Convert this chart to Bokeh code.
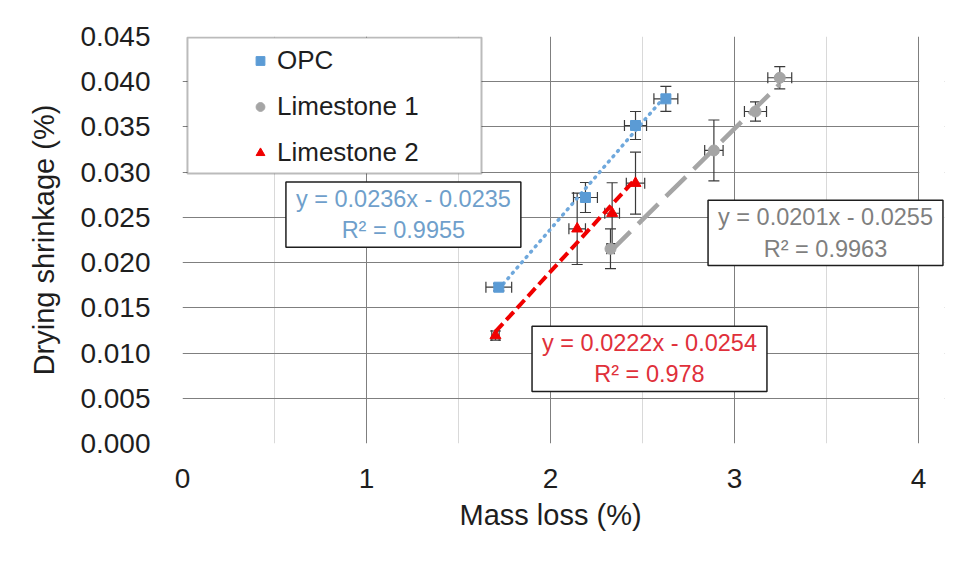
from bokeh.plotting import figure
from bokeh.models import (Range1d, FixedTicker, ColumnDataSource, Whisker, TeeHead,
                          Legend, LegendItem, Label, BoxAnnotation, Title)
from bokeh.embed import file_html
from bokeh.resources import INLINE

# ---------------- data ----------------
series_names = ["OPC", "Limestone 1", "Limestone 2"]

opc_x = [1.719, 2.190, 2.462, 2.627]
opc_y = [0.01728, 0.0272, 0.03516, 0.03811]
opc_xerr = [0.07, 0.065, 0.06, 0.065]
opc_yerr = [0.0004, 0.00166, 0.00155, 0.00138]

ls1_x = [2.326, 2.888, 3.114, 3.246]
ls1_y = [0.02153, 0.0324, 0.03671, 0.04044]
ls1_xerr = [0.02, 0.05, 0.06, 0.065]
ls1_yerr = [0.0022, 0.00337, 0.00107, 0.00122]

ls2_x = [1.701, 2.145, 2.335, 2.462]
ls2_y = [0.01194, 0.02374, 0.02546, 0.02878]
ls2_xerr = [0.02, 0.045, 0.04, 0.05]
ls2_yerr = [0.0005, 0.00395, 0.00337, 0.00343]

# trendline coefficients (slope, intercept) and equation texts
opc_fit = [0.0236, -0.0235]
ls1_fit = [0.0201, -0.0255]
ls2_fit = [0.0222, -0.0254]
opc_eq = "y = 0.0236x - 0.0235\nR\u00b2 = 0.9955"
ls1_eq = "y = 0.0201x - 0.0255\nR\u00b2 = 0.9963"
ls2_eq = "y = 0.0222x - 0.0254\nR\u00b2 = 0.978"

x_ticks = [0, 1, 2, 3, 4]
x_minor = [0.5, 1.5, 2.5, 3.5]
y_ticks = [0.0, 0.005, 0.010, 0.015, 0.020, 0.025, 0.030, 0.035, 0.040, 0.045]
y_tick_labels = ["0.000", "0.005", "0.010", "0.015", "0.020", "0.025",
                 "0.030", "0.035", "0.040", "0.045"]
x_title = "Mass loss (%)"
y_title = "Drying shrinkage (%)"

# ---------------- styles ----------------
BLUE = "#5B9BD5"
BLUE_TXT = "#6F9FCB"
GRAY = "#A5A5A5"
GRAY_TXT = "#7F7F7F"
RED = "#F00000"
RED_TXT = "#E0303A"
ERR = "#3A3A3A"
TXT = "#1E1E1E"
GRID = "#7F7F7F"
FONT = "Liberation Sans"

X_MAX = 4.0
X_EXTRA = 4.1413   # frame is extended to the right so the gray label box is not clipped

p = figure(width=954, height=564, output_backend="svg", toolbar_location=None,
           x_range=Range1d(0, X_EXTRA), y_range=Range1d(0, 0.045),
           min_border_left=182, min_border_right=10, min_border_top=36,
           min_border_bottom=121)
p.background_fill_color = "white"
p.border_fill_color = "white"
p.outline_line_color = None

p.xaxis.ticker = FixedTicker(ticks=x_ticks, minor_ticks=x_minor)
p.yaxis.ticker = FixedTicker(ticks=y_ticks)
p.yaxis.major_label_overrides = {t: l for t, l in zip(y_ticks, y_tick_labels)}
for ax in (p.xaxis, p.yaxis):
    ax.axis_line_color = None
    ax.major_tick_line_color = None
    ax.minor_tick_line_color = None
    ax.major_label_text_font = FONT
    ax.major_label_text_font_size = "28px"
    ax.major_label_text_color = TXT
    ax.axis_label_text_font = FONT
    ax.axis_label_text_font_size = "29px"
    ax.axis_label_text_font_style = "normal"
    ax.axis_label_text_color = TXT
p.yaxis.axis_label = y_title
p.yaxis.major_label_standoff = 26
p.xaxis.major_label_standoff = 19
p.yaxis.axis_label_standoff = 17

p.add_layout(Title(text=x_title, align="left", offset=277, standoff=12,
                   text_font=FONT, text_font_size="29px", text_font_style="normal",
                   text_color=TXT), "below")

p.xgrid.grid_line_color = GRID
p.xgrid.minor_grid_line_color = "#D9D9D9"
p.ygrid.grid_line_color = GRID

# white cover for the part of the frame beyond x = 4
p.add_layout(BoxAnnotation(left=X_MAX + 0.004, right=X_EXTRA, top=0.046, bottom=-0.001,
                           fill_color="white", fill_alpha=1.0, line_color=None,
                           level="underlay"))

# ---------------- trendlines ----------------
def trend(xs, fit):
    x0, x1 = min(xs), max(xs)
    return [x0, x1], [fit[0] * x0 + fit[1], fit[0] * x1 + fit[1]]

tx, ty = trend(opc_x, opc_fit)
p.line(tx, ty, line_color="#6FA8DC", line_width=3.5, line_dash="1 6", line_cap="round")
tx, ty = trend(ls1_x, ls1_fit)
p.line(tx, ty, line_color=GRAY, line_width=4.5, line_dash="28 11")
tx, ty = trend(ls2_x, ls2_fit)
p.line(tx, ty, line_color=RED, line_width=4, line_dash="11 5")

# ---------------- error bars + markers ----------------
def add_series(xs, ys, xe, ye, marker, color, size):
    src = ColumnDataSource(dict(
        x=xs, y=ys,
        xl=[a - b for a, b in zip(xs, xe)], xu=[a + b for a, b in zip(xs, xe)],
        yl=[a - b for a, b in zip(ys, ye)], yu=[a + b for a, b in zip(ys, ye)]))
    for dim, base, lo, up in (("height", "x", "yl", "yu"), ("width", "y", "xl", "xu")):
        w = Whisker(source=src, base=base, lower=lo, upper=up, dimension=dim,
                    line_color=ERR, line_width=1.2,
                    upper_head=TeeHead(size=11, line_color=ERR, line_width=1.2),
                    lower_head=TeeHead(size=11, line_color=ERR, line_width=1.2))
        p.add_layout(w)
    return p.scatter("x", "y", source=src, marker=marker, size=size,
                     fill_color=color, line_color=color)

r_opc = add_series(opc_x, opc_y, opc_xerr, opc_yerr, "square", BLUE, 10)
r_ls1 = add_series(ls1_x, ls1_y, ls1_xerr, ls1_yerr, "circle", GRAY, 11)
r_ls2 = add_series(ls2_x, ls2_y, ls2_xerr, ls2_yerr, "triangle", RED, 11)

# ---------------- legend ----------------
legend_box = BoxAnnotation(left=0.027, right=1.625, top=0.0449, bottom=0.02985,
                           fill_color="white", fill_alpha=1.0,
                           line_color="#1E1E1E", line_width=2)
p.add_layout(legend_box)

legend = Legend(items=[LegendItem(label=series_names[0], renderers=[r_opc]),
                       LegendItem(label=series_names[1], renderers=[r_ls1]),
                       LegendItem(label=series_names[2], renderers=[r_ls2])],
                location=(67, 275), padding=0, margin=0, spacing=15,
                glyph_width=22, glyph_height=29, label_height=29,
                label_standoff=6, label_text_font=FONT,
                label_text_font_size="26px", label_text_color=TXT,
                background_fill_alpha=0, border_line_alpha=0)
p.add_layout(legend, "center")

# ---------------- equation labels ----------------
def eq_label(x, y, text, color):
    lab = Label(x=x, y=y, text=text,
                text_align="center", text_baseline="middle",
                text_font=FONT, text_font_size="23.5px", text_color=color,
                background_fill_color="white", border_line_color="#1E1E1E",
                border_line_width=1.5, level="overlay",
                padding=dict(left=10, right=10, top=4, bottom=4))
    p.add_layout(lab)
    return lab

eq_label(1.2005, 0.0253, opc_eq, BLUE_TXT)
eq_label(3.4946, 0.02328, ls1_eq, GRAY_TXT)
eq_label(2.538, 0.00936, ls2_eq, RED_TXT)

open("out.html", "w").write(file_html(p, INLINE))
